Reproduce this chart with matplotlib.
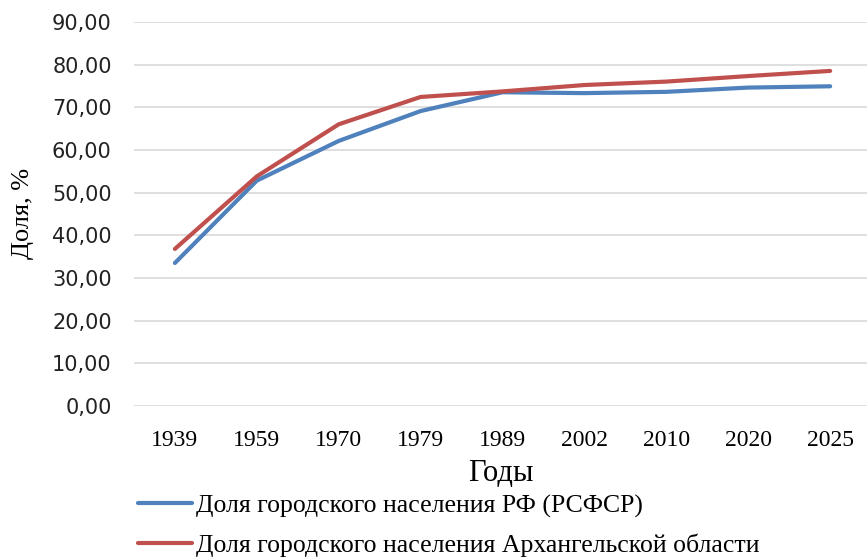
import matplotlib
import matplotlib.pyplot as plt
from matplotlib.ticker import FuncFormatter

matplotlib.pyplot.switch_backend('Agg')
plt.rcParams['font.family'] = ['Liberation Serif', 'DejaVu Serif']

years = ['1939', '1959', '1970', '1979', '1989', '2002', '2010', '2020', '2025']
russia = [33.5, 52.8, 62.1, 69.1, 73.5, 73.3, 73.6, 74.6, 74.9]
arkhangelsk = [36.8, 53.8, 66.0, 72.4, 73.7, 75.2, 76.0, 77.3, 78.5]

label_ru = 'Доля городского населения РФ (РСФСР)'
label_ar = 'Доля городского населения Архангельской области'

fig = plt.figure(figsize=(8.67, 5.6), dpi=100)
ax = fig.add_axes([0.1545, 0.275, 0.8455, 0.686])

x = range(len(years))
ax.plot(x, russia, color='#4F81BD', linewidth=3, label=label_ru, solid_capstyle='round')
ax.plot(x, arkhangelsk, color='#C0504D', linewidth=3, label=label_ar, solid_capstyle='round')

ax.set_ylim(0, 90)
ax.set_yticks(range(0, 91, 10))
ax.yaxis.set_major_formatter(FuncFormatter(lambda v, p: f'{v:.2f}'.replace('.', ',')))
ax.set_xlim(-0.5, 8.45)
ax.set_xticks(list(x))
ax.set_xticklabels(years)
ax.grid(axis='y', color='#d9d9d9', linewidth=1.2)
ax.set_axisbelow(True)
for s in ax.spines.values():
    s.set_visible(False)
ax.tick_params(axis='x', length=0, labelsize=17, pad=17)
ax.tick_params(axis='y', length=0, labelsize=15, pad=16)
for t in ax.get_yticklabels():
    t.set_fontfamily('DejaVu Sans')
    t.set_color('#222222')

ax.set_xlabel('Годы', fontsize=22, labelpad=6)
ax.set_ylabel('Доля, %', fontsize=19, labelpad=13)

fig.legend(loc='upper left', bbox_to_anchor=(0.159, 0.117), frameon=False,
           fontsize=18.5, handlelength=2.1, handletextpad=0.15, labelspacing=0.62,
           borderaxespad=0, borderpad=0)

plt.savefig('out.png', dpi=100)
